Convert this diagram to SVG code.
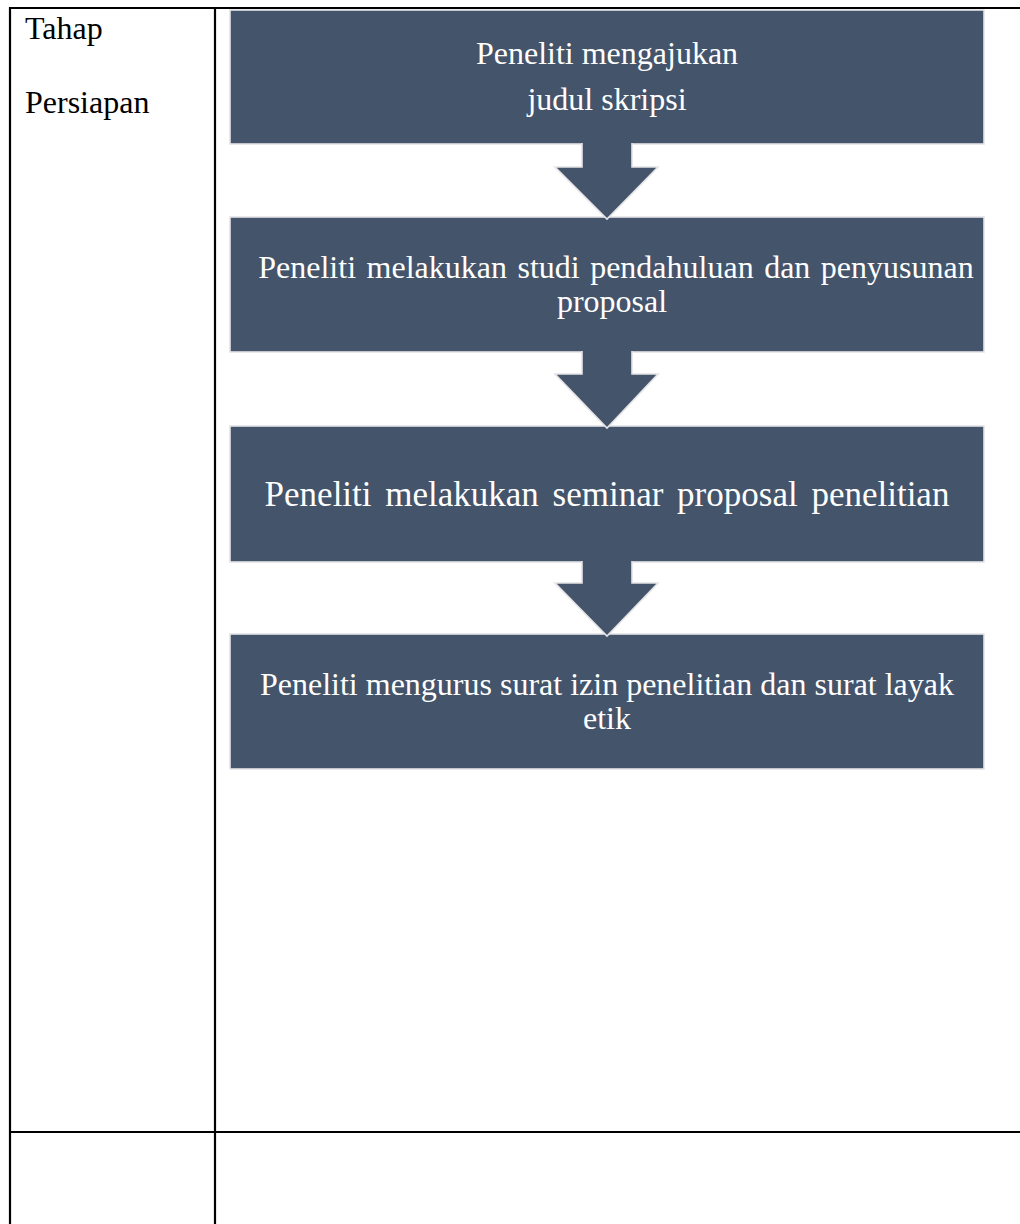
<svg xmlns="http://www.w3.org/2000/svg" width="1020" height="1224" viewBox="0 0 1020 1224">
<style>
.grid{stroke:#000;stroke-width:2.2;fill:none}
.box{fill:#44546A;stroke:#e4e4e6;stroke-width:1.6}
.arr{fill:#44546A;stroke:#e4e4e6;stroke-width:1.6}
.t{font-size:32px;fill:#ffffff;text-anchor:middle}
.lbl{font-size:32px;fill:#000000}
</style>
<rect width="1020" height="1224" fill="#ffffff"/>
<g id="table">
<line class="grid" x1="10" y1="8" x2="1020" y2="8"/>
<line class="grid" x1="10" y1="7" x2="10" y2="1224"/>
<line class="grid" x1="215" y1="8" x2="215" y2="1224"/>
<line class="grid" x1="10" y1="1132" x2="1020" y2="1132"/>
</g>
<g id="label" font-family="'Liberation Serif', 'Times New Roman', serif">
<text class="lbl" x="25" y="39" font-family="'Liberation Serif', 'Times New Roman', serif">Tahap</text>
<text class="lbl" x="25" y="113" font-family="'Liberation Serif', 'Times New Roman', serif">Persiapan</text>
</g>
<g id="node1" font-family="'Liberation Serif', 'Times New Roman', serif">
<rect class="box" x="230" y="10" width="754" height="134"/>
<text class="t" x="607" y="64">Peneliti mengajukan</text>
<text class="t" x="607" y="110">judul skripsi</text>
</g>
<g id="node2" font-family="'Liberation Serif', 'Times New Roman', serif">
<rect class="box" x="230" y="217" width="754" height="135"/>
<text class="t" x="616" y="278" word-spacing="2.5">Peneliti melakukan studi pendahuluan dan penyusunan</text>
<text class="t" x="612" y="312">proposal</text>
</g>
<g id="node3" font-family="'Liberation Serif', 'Times New Roman', serif">
<rect class="box" x="230" y="426" width="754" height="136"/>
<text class="t" x="607" y="506" style="font-size:35px" word-spacing="5">Peneliti melakukan seminar proposal penelitian</text>
</g>
<g id="node4" font-family="'Liberation Serif', 'Times New Roman', serif">
<rect class="box" x="230" y="634" width="754" height="135"/>
<text class="t" x="607" y="695">Peneliti mengurus surat izin penelitian dan surat layak</text>
<text class="t" x="607" y="729">etik</text>
</g>
<g id="connectors">
<path class="arr" d="M582,143 L582,167 L555,167 L607,219 L658,167 L632,167 L632,143"/>
<path class="arr" d="M582,351 L582,374 L555,374 L607,428 L658,374 L632,374 L632,351"/>
<path class="arr" d="M582,561 L582,583 L555,583 L607,636 L658,583 L632,583 L632,561"/>
</g>
</svg>
